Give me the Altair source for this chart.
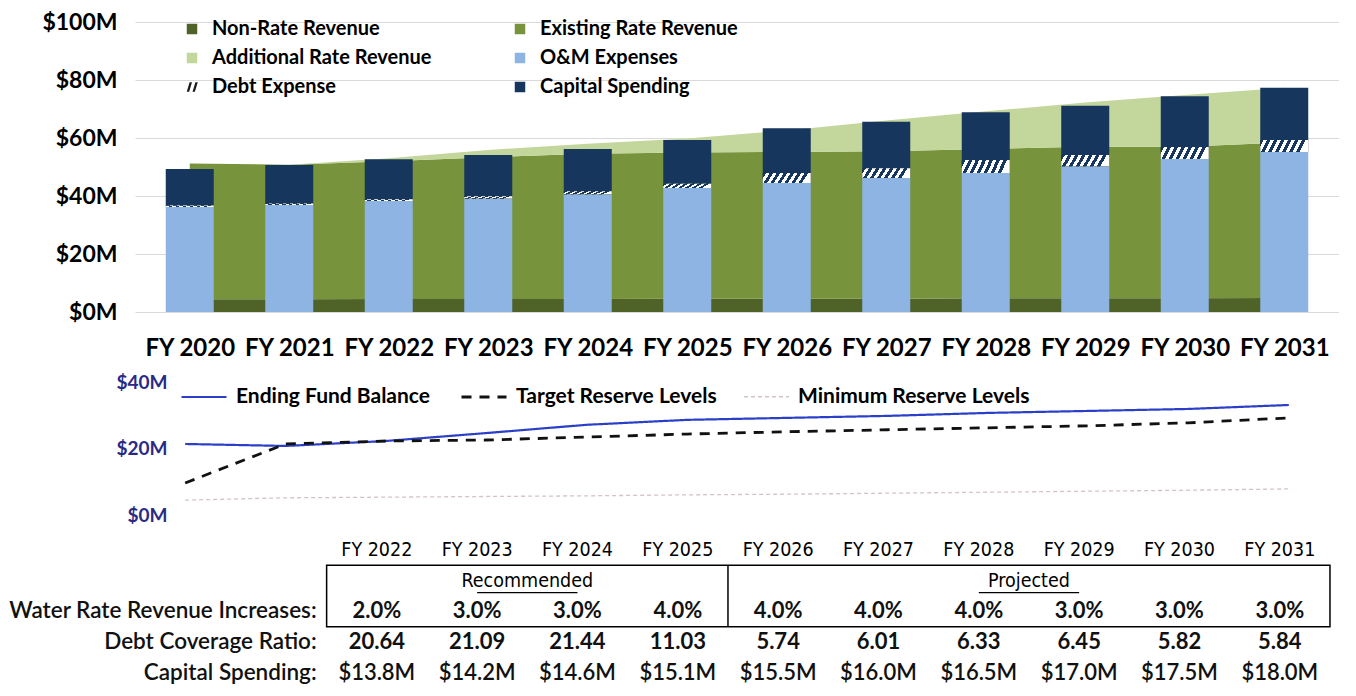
import altair as alt
import pandas as pd

# ---------------- data ----------------
years = [2020, 2021, 2022, 2023, 2024, 2025, 2026, 2027, 2028, 2029, 2030, 2031]

non_rate_rev = [4.4, 4.4, 4.5, 4.5, 4.5, 4.6, 4.6, 4.6, 4.7, 4.7, 4.7, 4.8]
existing_rate_rev = [46.8, 46.4, 47.5, 48.9, 50.1, 50.4, 50.6, 50.8, 51.5, 52.3, 52.3, 53.7]
additional_rate_rev = [0.0, 0.0, 1.0, 2.5, 3.4, 4.8, 7.4, 10.6, 13.0, 15.2, 17.8, 18.8]

om_expenses = [36.2, 36.9, 38.3, 39.1, 40.6, 42.8, 44.5, 46.2, 47.9, 50.3, 52.8, 55.2]
debt_expense = [0.5, 0.5, 0.6, 0.8, 1.0, 1.4, 3.4, 3.4, 4.5, 3.8, 4.1, 4.1]
capital_spending = [12.6, 13.3, 13.8, 14.2, 14.6, 15.1, 15.5, 16.0, 16.5, 17.0, 17.5, 18.0]

fund_balance = [21.5, 20.9, 22.4, 24.8, 27.3, 28.8, 29.4, 30.0, 30.9, 31.5, 32.1, 33.3]
target_reserve = [9.7, 21.5, 22.4, 22.7, 23.6, 24.5, 25.2, 25.8, 26.4, 27.0, 27.9, 29.4]
minimum_reserve = [4.5, 5.2, 5.4, 5.6, 5.8, 6.1, 6.3, 6.6, 6.9, 7.2, 7.5, 7.9]

table_years = [2022, 2023, 2024, 2025, 2026, 2027, 2028, 2029, 2030, 2031]
rate_increases = ["2.0%", "3.0%", "3.0%", "4.0%", "4.0%", "4.0%", "4.0%", "3.0%", "3.0%", "3.0%"]
debt_coverage = ["20.64", "21.09", "21.44", "11.03", "5.74", "6.01", "6.33", "6.45", "5.82", "5.84"]
capital_table = ["$13.8M", "$14.2M", "$14.6M", "$15.1M", "$15.5M", "$16.0M",
                 "$16.5M", "$17.0M", "$17.5M", "$18.0M"]
plan_groups = ["Recommended", "Recommended", "Recommended", "Recommended",
               "Projected", "Projected", "Projected", "Projected", "Projected", "Projected"]
row_labels = ["Water Rate Revenue Increases:", "Debt Coverage Ratio:", "Capital Spending:"]

# legend order (filled column by column): left column, then right column
bar_series = ["Non-Rate Revenue", "Additional Rate Revenue", "Debt Expense",
              "Existing Rate Revenue", "O&M Expenses", "Capital Spending"]
line_series = ["Ending Fund Balance", "Target Reserve Levels", "Minimum Reserve Levels"]

# ---------------- styles ----------------
NAVY = "#17365D"
bar_colors = ["#4F6228", "#C3D69B", "#1A1A1A", "#77933C", "#8DB4E2", NAVY]
hatch_icon = "M-1,0.9L-0.55,0.9L0,-0.9L-0.45,-0.9Z M0.1,0.9L0.55,0.9L1.1,-0.9L0.65,-0.9Z"
bar_shapes = ["square", "square", hatch_icon, "square", "square", "square"]
line_colors = ["#2B3FC8", "#111111", "#D3C3C8"]
COND = ("Liberation Sans Narrow, DejaVu Sans Condensed, Noto Sans Condensed, "
        "Roboto Condensed, Roboto, sans-serif")

# ---------------- frames ----------------
rev_rows = []
for i, y in enumerate(years):
    for o, (s, vals) in enumerate([("Non-Rate Revenue", non_rate_rev),
                                   ("Existing Rate Revenue", existing_rate_rev),
                                   ("Additional Rate Revenue", additional_rate_rev)]):
        rev_rows.append({"year": y, "series": s, "value": vals[i], "ord": o})
rev_df = pd.DataFrame(rev_rows)

exp_rows = []
for i, y in enumerate(years):
    for o, (s, vals) in enumerate([("O&M Expenses", om_expenses),
                                   ("Debt Expense", debt_expense),
                                   ("Capital Spending", capital_spending)]):
        exp_rows.append({"year": y, "series": s, "value": vals[i], "ord": o})
exp_df = pd.DataFrame(exp_rows)

debt_df = pd.DataFrame({"year": years, "om": om_expenses, "debt": debt_expense})
legend_df = pd.DataFrame({"series": bar_series, "year": [years[0]] * 6, "pos": [2.0] * 6})

line_rows = []
for s, vals in zip(line_series, [fund_balance, target_reserve, minimum_reserve]):
    for y, v in zip(years, vals):
        line_rows.append({"year": y, "lseries": s, "value": v})
line_df = pd.DataFrame(line_rows)

# ---------------- bar panel ----------------
xdom = [years[0] - 0.5, years[-1] + 0.5]
xscale = alt.Scale(domain=xdom, nice=False, zero=False)
xaxis = alt.Axis(values=years, labelExpr="'FY ' + datum.value", labelFont="Lato",
                 labelFontSize=24, labelFontWeight="bold", labelColor="black",
                 labelPadding=24, ticks=False, domain=False, grid=False,
                 labelFlush=False, labelOverlap=False)
yscale = alt.Scale(domain=[0, 100], nice=False)
yaxis = alt.Axis(values=[0, 20, 40, 60, 80, 100], labelExpr="'$' + datum.value + 'M'",
                 labelFont="Lato", labelFontSize=23, labelFontWeight="bold",
                 labelColor="black", labelPadding=18, ticks=False, domain=False,
                 grid=True, gridColor="#d9d9d9", gridWidth=1)
leg1 = alt.Legend(title=None, orient="none", legendX=47, legendY=-3, columns=2,
                  columnPadding=78, rowPadding=9, symbolSize=110, labelFont="Lato",
                  labelFontSize=20, labelFontWeight="bold", labelColor="black",
                  labelOffset=10, labelLimit=400, padding=0, symbolStrokeWidth=0,
                  symbolOpacity=1)
color_enc = alt.Color("series:N", scale=alt.Scale(domain=bar_series, range=bar_colors),
                      legend=leg1)
X = alt.X("year:Q", scale=xscale, axis=xaxis, title=None)

area = alt.Chart(rev_df).mark_area(interpolate="linear").encode(
    x=X,
    y=alt.Y("value:Q", stack="zero", scale=yscale, axis=yaxis, title=None),
    color=color_enc,
    order=alt.Order("ord:Q", sort="ascending"),
)
legend_pts = alt.Chart(legend_df).mark_point(filled=True, size=100, opacity=1).encode(
    x=X,
    y=alt.Y("pos:Q", scale=yscale, axis=yaxis, title=None),
    color=color_enc,
    shape=alt.Shape("series:N", scale=alt.Scale(domain=bar_series, range=bar_shapes),
                    legend=leg1),
)
bars = alt.Chart(exp_df).mark_bar(size=48).encode(
    x=X,
    y=alt.Y("value:Q", stack="zero", scale=yscale, axis=yaxis, title=None),
    color=color_enc,
    order=alt.Order("ord:Q", sort="ascending"),
)
stops = []
n_stripes = 7
for k in range(n_stripes):
    a, b, c = k / n_stripes, (k + 0.5) / n_stripes, (k + 1) / n_stripes
    stops += [alt.GradientStop(color=NAVY, offset=a), alt.GradientStop(color=NAVY, offset=b),
              alt.GradientStop(color="white", offset=b), alt.GradientStop(color="white", offset=c)]
hatch_fill = alt.LinearGradient(gradient="linear", stops=stops, x1=0, y1=0, x2=1, y2=0.13)
hatch = alt.Chart(debt_df).transform_calculate(top="datum.om + datum.debt").mark_bar(
    size=48, fill=hatch_fill).encode(
    x=X,
    y=alt.Y("om:Q", scale=yscale, axis=yaxis, title=None),
    y2="top:Q",
)
bar_panel = alt.layer(area, legend_pts, bars, hatch).properties(width=1204, height=290)

# ---------------- line panel ----------------
leg2 = alt.Legend(title=None, orient="none", legendX=45, legendY=43, direction="horizontal",
                  symbolType="stroke", symbolSize=2025, labelFont="Lato", labelFontSize=21,
                  labelFontWeight="bold", labelColor="black", labelOffset=8,
                  columnPadding=24, labelLimit=400, padding=0)
line_panel = alt.Chart(line_df).mark_line(interpolate="linear").encode(
    x=alt.X("year:Q", scale=xscale, axis=None),
    y=alt.Y("value:Q", scale=alt.Scale(domain=[0, 56], nice=False),
            axis=alt.Axis(values=[0, 20, 40], labelExpr="'$' + datum.value + 'M'",
                          labelFont="Lato", labelFontSize=19, labelFontWeight="bold",
                          labelColor="#2A2A86", ticks=False, domain=False, grid=False,
                          offset=-36, labelPadding=4),
            title=None),
    color=alt.Color("lseries:N", scale=alt.Scale(domain=line_series, range=line_colors),
                    legend=leg2),
    strokeDash=alt.StrokeDash("lseries:N",
                              scale=alt.Scale(domain=line_series, range=[[1, 0], [10, 8], [4, 3]]),
                              legend=leg2),
    strokeWidth=alt.StrokeWidth("lseries:N",
                                scale=alt.Scale(type="ordinal", domain=line_series,
                                                range=[2.2, 2.8, 1.3]),
                                legend=leg2),
).properties(width=1204, height=185)

# ---------------- table panel ----------------
HEADER_ROW, GROUP_ROW, RATE_ROW, DCR_ROW, CAP_ROW = 0, 1, 2, 3, 4
txscale = alt.Scale(domain=[xdom[0] + 0.09, xdom[1] + 0.09], nice=False, zero=False)
tyscale = alt.Scale(domain=[-0.55, 4.3], nice=False, zero=False, reverse=True)

def TX(f):
    return alt.X(f, scale=txscale, axis=None)

def TY(f):
    return alt.Y(f, scale=tyscale, axis=None)

hdr_df = pd.DataFrame({"year": table_years, "row": HEADER_ROW,
                       "text": ["FY " + str(y) for y in table_years]})
grp_names = ["Recommended", "Projected"]
grp_rows = []
for g in grp_names:
    ys = [y for y, p in zip(table_years, plan_groups) if p == g]
    mid = len(ys) // 2
    grp_rows.append({"text": g, "xc": sum(ys) / len(ys), "row": GROUP_ROW,
                     "u0": ys[mid - 1], "u1": ys[mid]})
grp_df = pd.DataFrame(grp_rows)
val_df = pd.DataFrame(
    [{"year": y, "row": RATE_ROW, "text": t} for y, t in zip(table_years, rate_increases)] +
    [{"year": y, "row": DCR_ROW, "text": t} for y, t in zip(table_years, debt_coverage)])
cap_df = pd.DataFrame({"year": table_years, "row": CAP_ROW, "text": capital_table})
lab_df = pd.DataFrame({"text": row_labels, "row": [RATE_ROW, DCR_ROW, CAP_ROW],
                       "xl": [table_years[0] - 0.5] * 3})
last_rec = [y for y, p in zip(table_years, plan_groups) if p == "Recommended"][-1]
box_df = pd.DataFrame({"x0": [table_years[0] - 0.5], "x1": [table_years[-1] + 0.5],
                       "y0": [GROUP_ROW - 0.5], "y1": [RATE_ROW + 0.5],
                       "xd": [last_rec + 0.5]})

t_hdr = alt.Chart(hdr_df).mark_text(font=COND, fontSize=19.5, color="black").encode(
    x=TX("year:Q"), y=TY("row:Q"), text="text:N")
t_grp = alt.Chart(grp_df).mark_text(font=COND, fontSize=19.5, color="black").encode(
    x=TX("xc:Q"), y=TY("row:Q"), text="text:N")
t_und = alt.Chart(grp_df).mark_rule(color="black", strokeWidth=1.3, yOffset=12).encode(
    x=TX("u0:Q"), x2="u1:Q", y=TY("row:Q"))
t_val = alt.Chart(val_df).mark_text(font="Lato", fontSize=22, fontWeight="bold",
                                    color="#111111").encode(
    x=TX("year:Q"), y=TY("row:Q"), text="text:N")
t_cap = alt.Chart(cap_df).mark_text(font="Lato", fontSize=22, fontWeight=600,
                                    color="#111111").encode(
    x=TX("year:Q"), y=TY("row:Q"), text="text:N")
t_lab = alt.Chart(lab_df).mark_text(font="Lato", fontSize=22.5, fontWeight=600, align="right",
                                    dx=-10, color="#111111").encode(
    x=TX("xl:Q"), y=TY("row:Q"), text="text:N")
t_box = alt.Chart(box_df).mark_rect(fill="transparent", stroke="black", strokeWidth=1.5).encode(
    x=TX("x0:Q"), x2="x1:Q", y=TY("y0:Q"), y2="y1:Q")
t_div = alt.Chart(box_df).mark_rule(color="black", strokeWidth=1.5).encode(
    x=TX("xd:Q"), y=TY("y0:Q"), y2="y1:Q")
table_panel = alt.layer(t_box, t_div, t_und, t_hdr, t_grp, t_val, t_cap, t_lab).properties(
    width=1204, height=149)

chart = alt.vconcat(bar_panel, line_panel, table_panel, spacing=18, bounds="flush").resolve_scale(
    color="independent", shape="independent", strokeDash="independent",
    strokeWidth="independent"
).properties(
    padding={"left": 0, "top": 3, "right": 0, "bottom": 0}
).configure(font="Lato").configure_view(stroke=None)

chart.save("out.html", embed_options={"renderer": "svg", "actions": False})
